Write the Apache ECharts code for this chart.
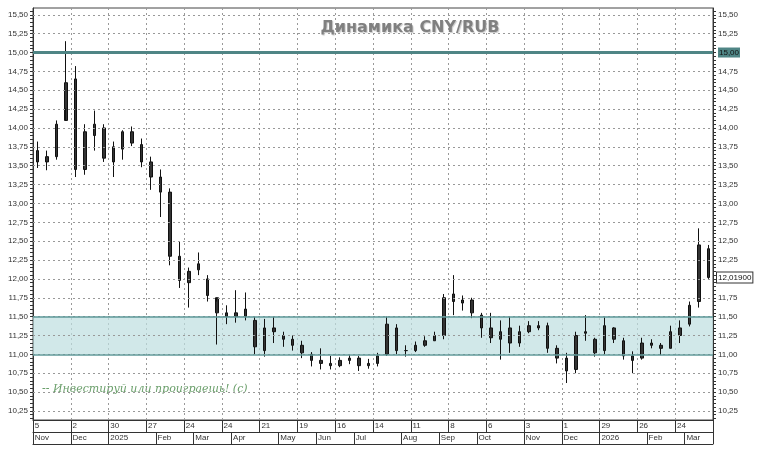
<!DOCTYPE html>
<html><head><meta charset="utf-8">
<script src="https://cdn.jsdelivr.net/npm/echarts@6/dist/echarts.min.js"></script>
<style>html,body{margin:0;padding:0;background:#fff}#c{width:758px;height:450px}</style>
</head><body><div id="c"></div>
<script>
// weekly bars, week starting Mon 4 Nov 2024 ... week of 16 Mar 2026
const weekOpen  = [13.70,13.55,13.62,14.10,14.65,13.45,13.90,14.00,13.55,13.72,13.95,13.78,13.55,13.35,13.15,12.30,11.95,12.12,12.00,11.75,11.50,11.50,11.60,11.45,11.05,11.35,11.25,11.20,11.12,11.00,10.92,10.88,10.85,10.92,10.95,10.85,10.88,11.00,11.35,11.05,11.05,11.12,11.18,11.25,11.80,11.68,11.72,11.52,11.35,11.20,11.35,11.15,11.30,11.38,11.38,11.08,10.95,10.80,11.28,11.20,11.05,11.35,11.18,10.98,10.95,11.15,11.12,11.08,11.25,11.40,11.70,12.40];
const weekClose = [13.55,13.62,14.05,14.60,13.45,13.95,14.05,13.60,13.75,13.95,13.80,13.55,13.35,13.15,12.30,11.98,12.10,12.20,11.78,11.55,11.55,11.55,11.50,11.10,11.35,11.30,11.20,11.12,11.02,10.92,10.88,10.85,10.92,10.95,10.85,10.88,10.98,11.40,11.05,11.05,11.12,11.18,11.25,11.75,11.70,11.72,11.55,11.35,11.22,11.30,11.15,11.30,11.38,11.35,11.08,10.95,10.78,11.25,11.30,11.02,11.38,11.20,10.98,10.92,11.15,11.12,11.08,11.30,11.35,11.65,12.45,12.019];
const weekLow   = [13.47,13.44,13.58,14.26,13.35,13.38,13.70,13.55,13.35,13.58,13.76,13.48,13.18,12.82,12.18,11.88,11.62,12.05,11.70,11.13,11.40,11.42,11.45,11.00,10.97,11.15,11.10,11.05,10.95,10.84,10.80,10.80,10.83,10.87,10.78,10.81,10.84,10.98,11.00,10.97,11.03,11.10,11.18,11.20,11.52,11.58,11.48,11.22,11.15,10.93,11.02,11.10,11.28,11.32,11.02,10.88,10.62,10.75,11.18,10.97,11.00,11.15,10.93,10.75,10.93,11.08,10.99,11.08,11.15,11.37,11.62,12.00];
const weekHigh  = [13.82,13.70,14.10,15.15,14.82,14.05,14.23,14.05,13.82,13.97,14.02,13.86,13.62,13.45,13.20,12.50,12.15,12.35,12.05,11.70,11.65,11.85,11.82,11.50,11.47,11.50,11.30,11.25,11.18,11.03,11.08,10.98,10.96,10.99,10.98,10.94,11.02,11.50,11.40,11.12,11.17,11.24,11.30,11.80,12.05,11.78,11.75,11.55,11.55,11.45,11.50,11.38,11.44,11.44,11.42,11.12,11.02,11.30,11.52,11.22,11.49,11.36,11.22,11.04,11.22,11.20,11.15,11.38,11.45,11.70,12.67,12.45];
const dayLabels = ["5","2","30","27","24","24","21","19","16","14","11","8","6","3","1","29","26","24"];
const monthIdx = [0,4,8,13,17,21,26,30,34,39,43,47,52,56,60,65,69];
const monthNames = ["Nov","Dec","2025","Feb","Mar","Apr","May","Jun","Jul","Aug","Sep","Oct","Nov","Dec","2026","Feb","Mar"];
const yLabels = [10.25,10.5,10.75,11,11.25,11.5,11.75,12,12.25,12.5,12.75,13,13.25,13.5,13.75,14,14.25,14.5,14.75,15,15.25,15.5];
const bandLow = 11.0, bandHigh = 11.5, resistance = 15.0;
const lastPrice = weekClose[weekClose.length-1];

const cats = weekOpen.map((_, i) => 'w' + i);
const ohlc = weekOpen.map((o, i) => [o, weekClose[i], weekLow[i], weekHigh[i]]);
const fine = []; for (let v = 10.15; v <= 15.56; v += 0.05) fine.push(+v.toFixed(2));
const fmt = v => v.toFixed(2).replace('.', ',');
const dayTick = (i) => i % 4 === 0;
const F = 'Liberation Sans, Arial, sans-serif';

const yCommon = (pos) => ({
  type: 'value', position: pos, min: 10.13, max: 15.59, scale: true,
  axisLine: {show: true, lineStyle: {color: '#333'}},
  axisTick: {show: true, customValues: fine, length: 3, lineStyle: {color: '#333'}},
  axisLabel: {customValues: yLabels, formatter: fmt, fontSize: 8, color: '#333', fontFamily: F, margin: 5},
  splitLine: {show: false}
});
const chart = echarts.init(document.getElementById('c'));
chart.setOption({
  animation: false,
  grid: {left: 33, right: 45, top: 8, bottom: 30, show: true, borderColor: '#444', borderWidth: 1},
  title: {text: 'Динамика CNY/RUB', left: 405, top: 15, textAlign: 'center',
    textStyle: {fontFamily: 'DejaVu Sans', fontSize: 16, fontWeight: 'bold', color: '#808080',
      textShadowColor: '#c8c8c8', textShadowOffsetX: 1, textShadowOffsetY: 1, textShadowBlur: 1}},
  graphic: [
    {type: 'text', left: 42, top: 384, style: {text: '-- Инвестируй или проиграешь! (с)', fill: '#6b9f6b', font: 'italic 11px "DejaVu Serif"'}}
  ],
  xAxis: [
    {type: 'category', data: cats, position: 'bottom',
      axisLine: {show: true, lineStyle: {color: '#333'}},
      axisTick: {show: true, interval: (i) => dayTick(i), length: 12, lineStyle: {color: '#333'}},
      axisLabel: {interval: (i) => dayTick(i), formatter: (v, i) => dayLabels[i / 4] || '', align: 'left', margin: 2, fontSize: 8, color: '#333', fontFamily: F, padding: [0,0,0,-3]},
      splitLine: {show: true, interval: (i) => dayTick(i), lineStyle: {type: [2, 3], color: '#999'}}},
    {type: 'category', data: cats, position: 'bottom', offset: 12,
      axisLine: {show: true, lineStyle: {color: '#333'}},
      axisTick: {show: true, interval: (i) => monthIdx.includes(i), length: 12, lineStyle: {color: '#333'}},
      axisLabel: {interval: (i) => monthIdx.includes(i), formatter: (v, i) => monthNames[monthIdx.indexOf(i)] || '', align: 'left', margin: 2, fontSize: 8, color: '#333', fontFamily: F, padding: [0,0,0,-3]},
      splitLine: {show: false}},
    {type: 'category', data: cats, position: 'bottom', offset: 24,
      axisLine: {show: true, lineStyle: {color: '#333'}}, axisTick: {show: false}, axisLabel: {show: false}}
  ],
  yAxis: [yCommon('left'), yCommon('right')],
  series: [{
    type: 'candlestick', data: ohlc, barWidth: 3,
    itemStyle: {color: '#333', color0: '#333', borderColor: '#111', borderColor0: '#111', borderWidth: 1},
    markLine: {silent: true, symbol: 'none', animation: false,
      data: yLabels.map(v => ({yAxis: v, lineStyle: {type: [2, 3], color: '#999', width: 1}, label: {show: false}}))
        .concat([
          {yAxis: bandLow, lineStyle: {type: 'solid', color: '#5f9a9a', width: 1.5}, label: {show: false}},
          {yAxis: bandHigh, lineStyle: {type: 'solid', color: '#5f9a9a', width: 1.5}, label: {show: false}},
          {yAxis: resistance, lineStyle: {type: 'solid', color: '#4f8585', width: 3},
            label: {show: true, position: 'end', formatter: fmt(resistance), backgroundColor: '#4f8585', color: '#111', fontSize: 8, fontFamily: F, padding: [1,1], distance: 5}},
          {yAxis: lastPrice, lineStyle: {color: 'rgba(0,0,0,0)', width: 1},
            label: {show: true, position: 'end', formatter: lastPrice.toFixed(5).replace('.', ','), backgroundColor: '#fff', borderColor: '#333', borderWidth: 1, color: '#111', fontSize: 8, fontFamily: F, padding: [1,1], distance: 4}}
        ])},
    markArea: {silent: true, itemStyle: {color: 'rgba(190,222,224,0.7)'}, data: [[{yAxis: bandLow}, {yAxis: bandHigh}]]}
  }]
});
</script></body></html>
